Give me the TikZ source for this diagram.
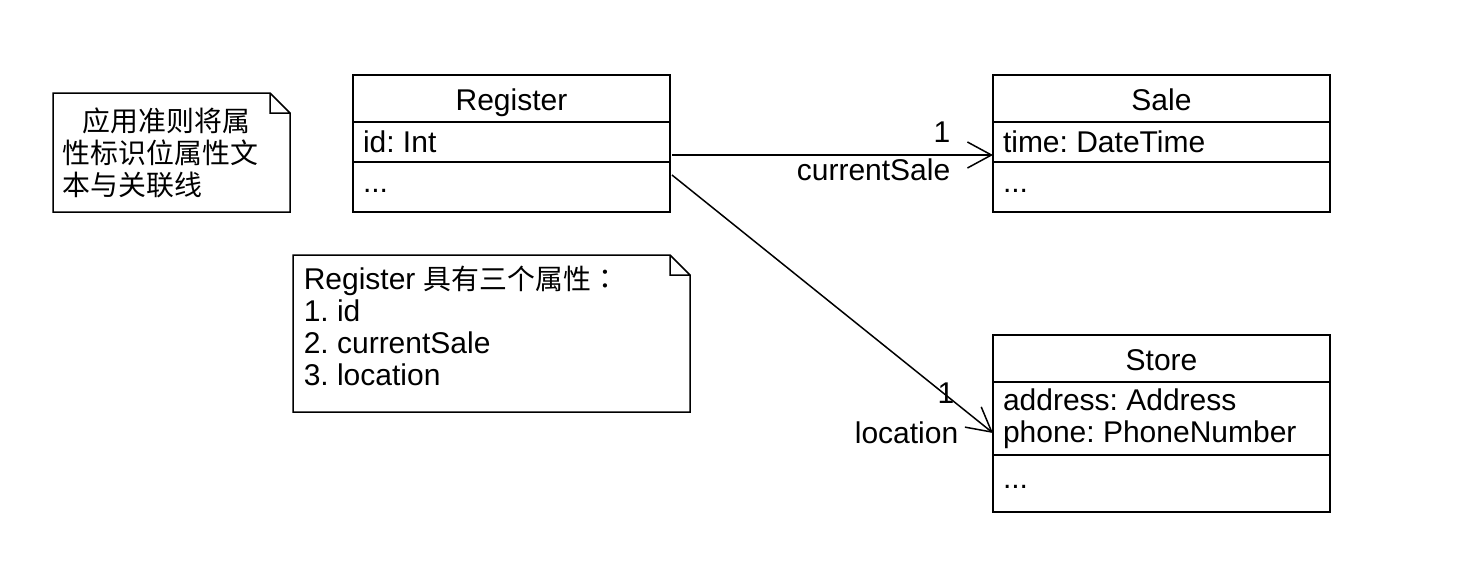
\documentclass[tikz,border=0pt]{standalone}
\usepackage{fontspec}
\setmainfont{Liberation Sans}
\newfontfamily\cjk[Scale=0.93]{Noto Sans CJK SC}
\newfontfamily\cjktc[Scale=0.93]{Noto Sans CJK TC}
\usepackage{tikz}
\usetikzlibrary{positioning,calc,arrows.meta}
\frenchspacing

% dog-eared outline round a (borderless) note node
\newcommand\dogear[1]{%
  \draw[line width=0.75pt] (#1.north west) -- ([xshift=-10pt]#1.north east)
    -- ([yshift=-10pt]#1.north east) -- (#1.south east) -- (#1.south west) -- cycle
    ([xshift=-10pt]#1.north east) |- ([yshift=-10pt]#1.north east);}

\begin{document}
\begin{tikzpicture}[x=0.5pt,y=-0.5pt,line width=0.75pt,
    font=\fontsize{15pt}{16pt}\selectfont]
    % `classhead' is the name row of a class, `classrow' the rows below it.
    % `notebox' only reserves the room of a note; `dogear' draws it.
    \tikzstyle{classhead} = [draw,minimum width=#1,minimum height=23.5pt,inner sep=0pt,
                             outer sep=0pt,text height=11.5pt,text depth=0pt]
    \tikzstyle{classrow} = [draw,text width=#1,inner xsep=5pt,inner ysep=0pt,
                            outer sep=0pt,align=flush left]
    \tikzstyle{dots} = [text height=5pt,text depth=0pt]
    \tikzstyle{notebox} = [minimum width=#1,inner sep=0pt,outer sep=0pt,anchor=north west]
    \tikzstyle{assoc} = [-{Straight Barb[length=12pt,width=13pt]}]
    \tikzstyle{mult} = [inner sep=2pt]
    %
    \useasboundingbox (0,0) rectangle (1480,570);
    %
    % Classes.
    \node[classhead=158.5pt,anchor=north west] (register) at (353,75) {Register};
    \node[classrow=148.5pt,minimum height=20pt,below=0pt of register] (regattr) {id: Int};
    \node[classrow=148.5pt,dots,minimum height=25pt,below=0pt of regattr] (regops) {...};
    %
    \node[classhead=168.5pt,anchor=north west] (sale) at (993,75) {Sale};
    \node[classrow=158.5pt,minimum height=20pt,below=0pt of sale] (saleattr) {time: DateTime};
    \node[classrow=158.5pt,dots,minimum height=25pt,below=0pt of saleattr] (saleops) {...};
    %
    \node[classhead=168.5pt,anchor=north west] (store) at (993,335) {Store};
    \node[classrow=158.5pt,minimum height=36.5pt,below=0pt of store] (storeattr)
      {address: Address\\phone: PhoneNumber};
    \node[classrow=158.5pt,dots,minimum height=28.5pt,below=0pt of storeattr] (storeops) {...};
    %
    % Notes.
    \node[notebox=118.5pt,minimum height=59.5pt] (note1) at (53,93) {};
    \node[anchor=west,inner sep=4.5pt,align=left] (note1txt) at (note1.west)
      {\cjk\hspace{10pt}应用准则将属\\\cjk 性标识位属性文\\\cjk 本与关联线};
    \dogear{note1}
    %
    \node[notebox=198.5pt,minimum height=78.5pt] (note2) at (293,255) {};
    \node[anchor=north west,inner sep=5pt,align=left] (note2txt) at (note2.north west)
      {Register {\cjk 具有三个属性}{\cjktc ：}\\1. id\\2. currentSale\\3. location};
    \dogear{note2}
    %
    % Associations.
    \coordinate (cs0) at ($(regattr.south east)+(2,-7)$);
    \coordinate (cs1) at ($(saleattr.south west)+(0,-7)$);
    \coordinate (lo0) at ($(regops.north east)+(2,13)$);
    \coordinate (lo1) at ($(storeattr.west)+(0,14.5)$);
    \draw[assoc] (cs0) -- (cs1)
      node[mult,at end,anchor=south east,xshift=-19pt,yshift=4pt] {1}
      node[mult,at end,anchor=north east,xshift=-19pt,yshift=0.5pt] {currentSale};
    \draw[assoc] (lo0) -- (lo1)
      node[mult,at end,anchor=south east,xshift=-17pt,yshift=12.5pt] {1}
      node[mult,at end,anchor=east,xshift=-15pt] {location};
\end{tikzpicture}
\end{document}
